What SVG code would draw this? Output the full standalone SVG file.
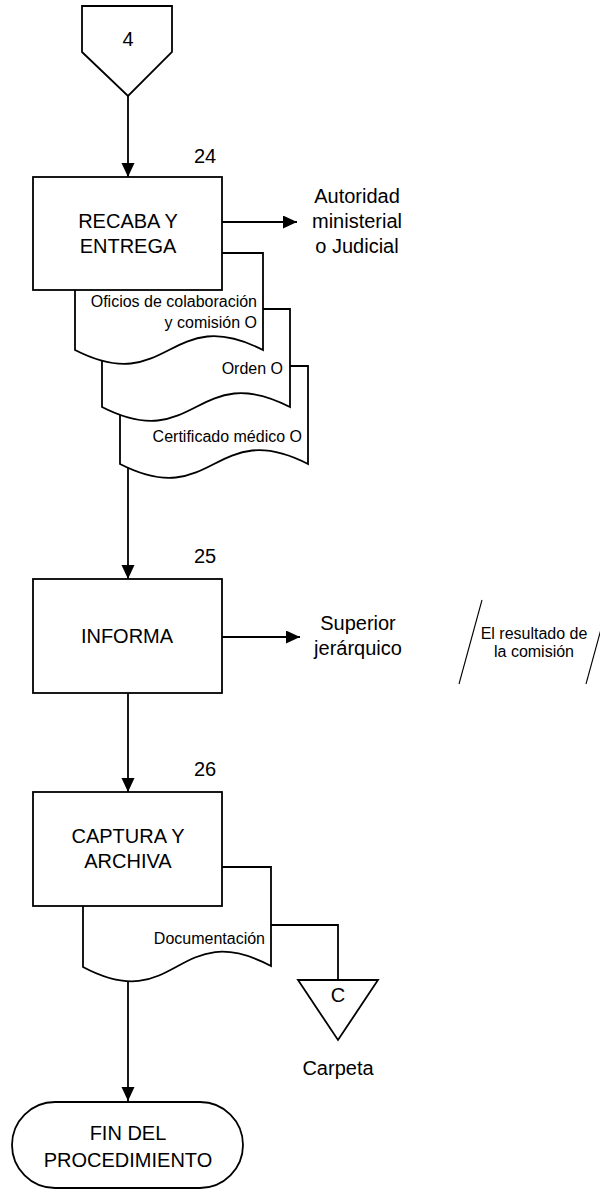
<svg xmlns="http://www.w3.org/2000/svg" width="600" height="1190" viewBox="0 0 600 1190">
  <style>
    .shape { fill: #ffffff; stroke: #000000; stroke-width: 1.8; }
    .line { fill: none; stroke: #000000; stroke-width: 1.8; }
    .thin { fill: none; stroke: #000000; stroke-width: 1.1; }
    text { font-family: "Liberation Sans", Arial, sans-serif; fill: #000000; }
    .big { font-size: 20px; }
    .small { font-size: 16px; }
    .mid { text-anchor: middle; }
    .end { text-anchor: end; }
  </style>
  <defs>
    <marker id="arrow" markerUnits="userSpaceOnUse" markerWidth="15" markerHeight="14" refX="14" refY="6.5" orient="auto">
      <path d="M0,0 L14,6.5 L0,13 Z" fill="#000000"/>
    </marker>
  </defs>

  <!-- connectors -->
  <g id="connectors">
    <line class="line" x1="128" y1="96" x2="128" y2="177" marker-end="url(#arrow)"/>
    <line class="line" x1="222" y1="222" x2="297" y2="222" marker-end="url(#arrow)"/>
    <line class="line" x1="128" y1="464" x2="128" y2="579" marker-end="url(#arrow)"/>
    <line class="line" x1="222" y1="637" x2="300" y2="637" marker-end="url(#arrow)"/>
    <line class="line" x1="128" y1="693" x2="128" y2="792" marker-end="url(#arrow)"/>
    <line class="line" x1="128" y1="967" x2="128" y2="1101" marker-end="url(#arrow)"/>
    <polyline class="line" points="271,925 338,925 338,980"/>
  </g>

  <!-- off-page connector 4 -->
  <g id="offpage-4">
    <polygon class="shape" points="82,6 172,6 172,52 128,96 82,52"/>
    <text class="big mid" x="128" y="46">4</text>
  </g>

  <!-- documents of step 24 (back to front) -->
  <g id="doc-certificado">
    <path class="shape" d="M120,366 H308 V464 C214,416 214,512 120,464 Z"/>
    <text class="small end" x="302" y="442">Certificado médico O</text>
  </g>
  <g id="doc-orden">
    <path class="shape" d="M102,309 H290 V407 C196,359 196,455 102,407 Z"/>
    <text class="small end" x="283" y="374">Orden O</text>
  </g>
  <g id="doc-oficios">
    <path class="shape" d="M75,253 H263 V350 C169,302 169,398 75,350 Z"/>
    <text class="small end" x="257" y="307">Oficios de colaboración</text>
    <text class="small end" x="257" y="328">y comisión O</text>
  </g>

  <!-- step 24 -->
  <g id="step-24">
    <rect class="shape" x="33" y="177" width="189" height="113"/>
    <text class="big mid" x="128" y="228">RECABA Y</text>
    <text class="big mid" x="128" y="253">ENTREGA</text>
    <text class="big mid" x="205" y="163">24</text>
  </g>
  <g id="dest-autoridad">
    <text class="big mid" x="357" y="203">Autoridad</text>
    <text class="big mid" x="357" y="228">ministerial</text>
    <text class="big mid" x="357" y="253">o Judicial</text>
  </g>

  <!-- step 25 -->
  <g id="step-25">
    <rect class="shape" x="33" y="579" width="189" height="114"/>
    <text class="big mid" x="127" y="643">INFORMA</text>
    <text class="big mid" x="205" y="563">25</text>
  </g>
  <g id="dest-superior">
    <text class="big mid" x="358" y="630">Superior</text>
    <text class="big mid" x="358" y="655">jerárquico</text>
  </g>
  <g id="note-resultado">
    <line class="thin" x1="482" y1="600" x2="459" y2="684"/>
    <line class="thin" x1="609" y1="600" x2="586" y2="684"/>
    <text class="small mid" x="534" y="639">El resultado de</text>
    <text class="small mid" x="534" y="657">la comisión</text>
  </g>

  <!-- step 26 -->
  <g id="doc-documentacion">
    <path class="shape" d="M83,867 H271 V966 C177,916 177,1017 83,967 Z"/>
    <text class="small end" x="265" y="944">Documentación</text>
  </g>
  <g id="step-26">
    <rect class="shape" x="33" y="792" width="189" height="114"/>
    <text class="big mid" x="128" y="843">CAPTURA Y</text>
    <text class="big mid" x="128" y="868">ARCHIVA</text>
    <text class="big mid" x="205" y="776">26</text>
  </g>
  <g id="archive-c">
    <polygon class="shape" points="298,980 378,980 338,1040"/>
    <text class="big mid" x="338" y="1002">C</text>
    <text class="big mid" x="338" y="1075">Carpeta</text>
  </g>

  <!-- end terminator -->
  <g id="end">
    <rect class="shape" x="12" y="1102" width="231" height="86" rx="43" ry="43"/>
    <text class="big mid" x="128" y="1140">FIN DEL</text>
    <text class="big mid" x="128" y="1167">PROCEDIMIENTO</text>
  </g>
</svg>
